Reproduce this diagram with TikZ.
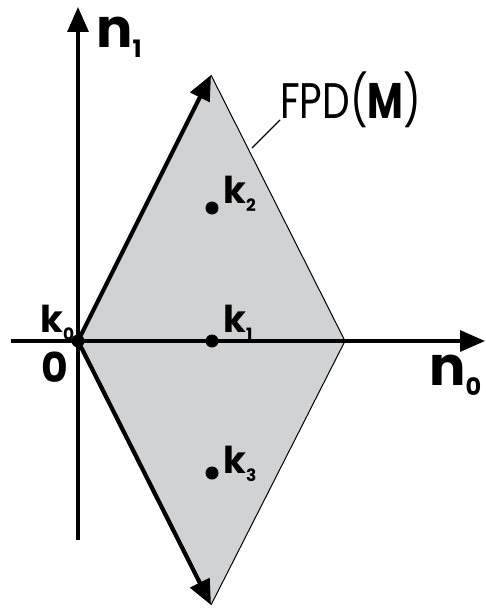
\documentclass[tikz,border=0pt]{standalone}
\usepackage{fontspec}
\setmainfont{Poppins}
\usetikzlibrary{arrows.meta}
\definecolor{regionfill}{HTML}{D1D2D4}
\newcommand{\klab}[2]{{\fontsize{37}{37}\selectfont\bfseries #1}\raisebox{-8pt}{\fontsize{17}{17}\selectfont\bfseries #2}}
\begin{document}
\begin{tikzpicture}[x=1pt,y=-1pt,
  axis/.style={line width=3.2pt,-{Triangle[length=25pt,width=21pt]}},
  vec/.style={line width=4.2pt,-{Triangle[length=25pt,width=21pt]}},
  dot/.style={circle,fill=black,inner sep=0pt,minimum size=13pt},
  lab/.style={inner sep=0pt,anchor=base west}]
\useasboundingbox (0,0) rectangle (486,610);
\coordinate (O) at (78,341);
\coordinate (T) at (211,75);
\coordinate (R) at (345,341);
\coordinate (B) at (211,605);
\fill[regionfill] (O)--(T)--(R)--(B)--cycle;
\draw[line width=1pt,line join=miter] (T)--(R)--(B);
\coordinate (xl) at (11,341);
\coordinate (xr) at (485,341);
\coordinate (yb) at (78,540);
\coordinate (yt) at (78,7);
\draw[axis] (xl)--(xr);
\draw[axis] (yb)--(yt);
\draw[vec] (O)--(T);
\draw[vec] (O)--(B);
\node[dot] (d0) at (O) {};
\node[dot] (d1) at (212,341) {};
\node[dot] (d2) at (212,208) {};
\node[dot] (d3) at (212,473) {};
% labels
\node[lab] (n1) at (96,48) {{\fontsize{54}{54}\selectfont\bfseries n}\raisebox{-10pt}{\fontsize{24}{24}\selectfont\bfseries 1}};
\node[lab] (n0) at (429,385) {{\fontsize{54}{54}\selectfont\bfseries n}\raisebox{-10pt}{\fontsize{24}{24}\selectfont\bfseries 0}};
\node[lab] (zero) at (41,382) {\fontsize{41}{41}\selectfont\bfseries 0};
\node[lab] (k0) at (40,332) {\klab{k}{0}};
\node[lab] (k1) at (223,332) {\klab{k}{1}};
\node[lab] (k2) at (223,203) {\klab{k}{2}};
\node[lab] (k3) at (223,473) {\klab{k}{3}};
\node[lab] (fpd) at (280,118) {\scalebox{0.78}[1]{\fontsize{50}{50}\selectfont FPD(\textbf{M})}};
\coordinate (lead1) at (252,148);
\coordinate (lead2) at (280,120);
\draw[line width=1.2pt] (lead1)--(lead2);
\end{tikzpicture}
\end{document}
